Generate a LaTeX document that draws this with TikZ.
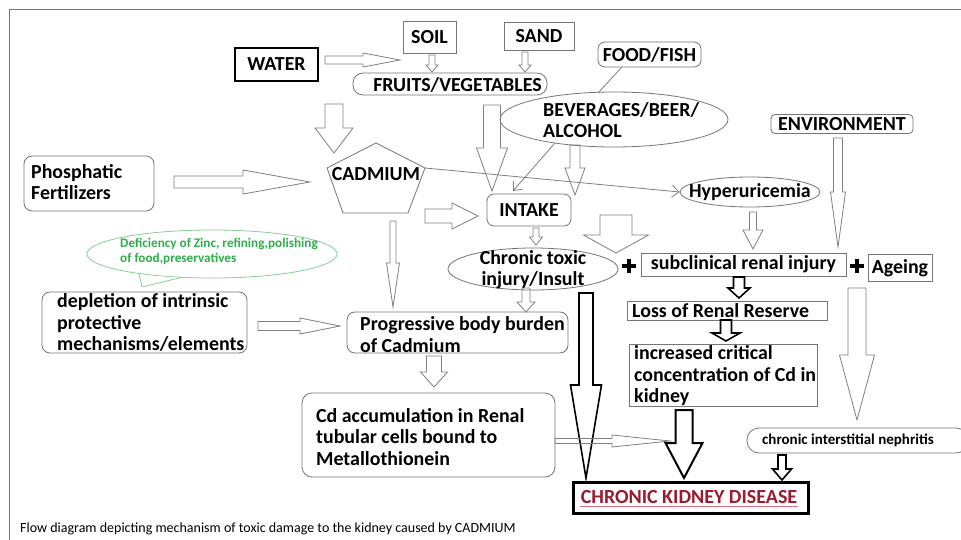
\documentclass[tikz,border=0pt]{standalone}
\usepackage{fontspec}
\setmainfont{Carlito}
\usetikzlibrary{arrows.meta,calc,shapes.geometric}
\definecolor{bgray}{HTML}{767676}
\definecolor{agray}{HTML}{808080}
\definecolor{ckdred}{HTML}{9A1C2E}
\definecolor{ulred}{HTML}{E0707E}
\definecolor{gline}{HTML}{86CF95}
\definecolor{gtext}{HTML}{2EAF4A}
\newcommand\fb{\fontsize{19.9}{21.5}\selectfont\bfseries}
% down block arrow: style, x, ytop, ytip, shaft w, head w, head len
\newcommand\downarr[7]{%
 \draw[#1] ({#2-#5/2},#3) -- ({#2+#5/2},#3) -- ({#2+#5/2},{#4-#7}) -- ({#2+#6/2},{#4-#7}) -- (#2,#4) -- ({#2-#6/2},{#4-#7}) -- ({#2-#5/2},{#4-#7}) -- cycle;}
% right block arrow: style, y, xleft, xtip, shaft w, head w, head len
\newcommand\rightarr[7]{%
 \draw[#1] (#3,{#2-#5/2}) -- ({#4-#7},{#2-#5/2}) -- ({#4-#7},{#2-#6/2}) -- (#4,#2) -- ({#4-#7},{#2+#6/2}) -- ({#4-#7},{#2+#5/2}) -- (#3,{#2+#5/2}) -- cycle;}
\tikzset{
 box/.style={draw=bgray, line width=0.8pt, inner sep=0pt, font=\fb, text=black},
 rbox/.style={box, rounded corners=8pt},
 ell/.style={draw=bgray, line width=0.8pt, ellipse, inner sep=0pt},
 lbl/.style={font=\fb, inner sep=0pt, align=left},
 lblw/.style={lbl, anchor=west},
 harr/.style={draw=agray, line width=0.8pt, line join=miter},
 karr/.style={draw=black, line width=1.6pt, line join=miter},
 thin/.style={draw=agray, line width=0.8pt, -{Straight Barb[length=7pt,width=12pt]}},
}
\begin{document}
\begin{tikzpicture}[x=1pt,y=-1pt]
\useasboundingbox (0,0) rectangle (961,540);
\fill[white] (0,0) rectangle (961,540);
% frame
\draw[bgray, line width=1pt] (9,540) -- (9,10) -- (961,10);

% top sources
\node[box, draw=black, line width=1.3pt, minimum width=83, minimum height=33] (water) at (276.5,64.5) {WATER};
\node[box, minimum width=53, minimum height=32] (soil) at (429.5,37) {SOIL};
\node[box, minimum width=70, minimum height=28] (sand) at (539,36) {SAND};
\node[box, rounded corners=10pt, minimum width=194, minimum height=22] (fruits) at (450,84) {};
\node[lbl] at (457.5,85) {FRUITS/VEGETABLES};
\node[box, rounded corners=7pt, minimum width=103, minimum height=25] (food) at (649.5,54.5) {FOOD/FISH};
\node[ell, minimum width=228, minimum height=55] (bev) at (614,119.5) {};
\node[lblw] at (543,120) {BEVERAGES/BEER/\\ALCOHOL};
\node[box, rounded corners=4pt, minimum width=142, minimum height=19] (env) at (842,124) {ENVIRONMENT};

% cadmium pentagon
\draw[bgray, line width=0.8pt] (376,143) -- (425,168) coordinate (cadR) -- (408,213) -- (343,213) -- (327,168) -- cycle;
\node[lbl] (cad) at (376,174) {CADMIUM};

\node[rbox, minimum width=130, minimum height=55] (phos) at (89,183.5) {};
\node[lblw] at (31,182) {Phosphatic\\Fertilizers};
\node[box, rounded corners=7pt, minimum width=84, minimum height=32] (intake) at (529,210) {INTAKE};
\node[ell, minimum width=140, minimum height=30] (hyper) at (750,192) {};
\node[lbl] at (750,192) {Hyperuricemia};

% green callout
\draw[gline, line width=0.8pt, fill=white] (212,254) ellipse [x radius=125, y radius=24];
\fill[white] (140,275) -- (142.3,285.5) -- (180,277.8) -- cycle;
\draw[gline, line width=0.8pt, line join=round] (139,273.8) -- (142,287) -- (182,277.3);
\node[lbl, font=\fontsize{13.2}{15}\selectfont\bfseries, text=gtext] at (219,251) {Deficiency of Zinc, refining,polishing\\of food,preservatives};

% middle row
\node[ell, minimum width=170, minimum height=42] (chronic) at (533,269) {};
\node[lbl, align=center] at (533,269.5) {Chronic toxic\\injury/Insult};
\node[box, minimum width=205, minimum height=23] (subc) at (743.5,264.5) {subclinical renal injury};
\node[box, minimum width=64, minimum height=27] (ageing) at (900,268) {Ageing};
\fill (622,263.5) rectangle (636,267.5);
\fill (627,258.5) rectangle (631,272.5);
\fill (850,263.5) rectangle (864,267.5);
\fill (855,258.5) rectangle (859,272.5);

\node[rbox, minimum width=205, minimum height=61] (depl) at (144.5,322.5) {};
\node[lblw] at (57,322.5) {depletion of intrinsic\\protective\\mechanisms/elements};
\node[rbox, minimum width=221, minimum height=41] (prog) at (457.5,332.5) {};
\node[lblw] at (360,334.5) {Progressive body burden\\of Cadmium};
\node[rbox, rounded corners=10pt, minimum width=253, minimum height=84] (cdacc) at (428.5,435) {};
\node[lblw] at (316,437) {Cd accumulation in Renal\\tubular cells bound to\\Metallothionein};
\node[box, minimum width=200, minimum height=19] (loss) at (727,310.5) {};
\node[lblw] at (632,310.5) {Loss of Renal Reserve};
\node[box, minimum width=188, minimum height=62] (incr) at (723,375) {};
\node[lblw] at (634,376) {increased critical\\concentration of Cd in\\kidney};
\node[box, rounded corners=12pt, minimum width=221, minimum height=25] (neph) at (857.5,440.5) {};
\node[lblw, font=\fontsize{15}{16}\selectfont\bfseries] at (762,440) {chronic interstitial nephritis};
\node[box, draw=black, line width=3pt, minimum width=235, minimum height=31] (ckd) at (690.5,497.5) {};
\node[lbl, text=ckdred, font=\fontsize{20}{22}\selectfont\bfseries] (ckdt) at (689,497) {CHRONIC KIDNEY DISEASE};
\draw[ulred, line width=0.7pt] (580,506) -- (798,506);

% caption
\node[anchor=base west, inner sep=0pt, font=\fontsize{14}{16}\selectfont] at (20,532) {Flow diagram depicting mechanism of toxic damage to the kidney caused by CADMIUM};

% block arrows
\rightarr{harr}{60}{325}{400}{8}{14}{37}
\downarr{harr}{432}{55}{72}{6}{12}{7}
\downarr{harr}{525}{52}{72}{6}{12}{7}
\downarr{harr}{334}{104}{153}{18}{38}{25}
\rightarr{harr}{182}{174}{310}{12}{24}{67}
\downarr{harr}{492}{105}{191}{17}{31}{43}
\downarr{harr}{575}{145}{195}{10}{20}{27}
\rightarr{harr}{216}{425}{478}{14}{26}{26}
\downarr{harr}{393}{221}{307}{6}{13}{44}
\downarr{harr}{536}{228}{245}{6}{13}{8}
\downarr{harr}{616}{215}{253}{32}{65}{18}
\downarr{harr}{753}{212}{249}{7}{20}{19}
\downarr{harr}{838}{138}{247}{9}{15}{55}
\downarr{harr}{526}{288}{312}{8}{18}{10}
\downarr{karr}{586}{293}{478}{14}{31}{93}
\downarr{karr}{739}{277}{298}{11}{22}{10}
\downarr{karr}{726}{320}{341}{11}{28}{8}
\downarr{karr, line width=2pt}{684}{410}{478}{17}{37}{35}
\downarr{harr}{857}{288}{420}{18}{35}{65}
\downarr{karr}{782}{455}{480}{8}{19}{11}
\rightarr{harr}{326}{258}{340}{9}{16}{40}
\rightarr{harr}{441}{555}{670}{5}{12}{58}
\downarr{harr}{434}{356}{387}{15}{27}{15}

% thin connectors
\coordinate (bevs) at (555,143);
\coordinate (intk) at (513,191);
\coordinate (foodb) at (622,67);
\coordinate (bevt) at (598,93);
\draw[thin] (cadR) -- (hyper.west);
\draw[thin] (bevs) -- (intk);
\draw[agray, line width=0.8pt] (foodb) -- (bevt);
\end{tikzpicture}
\end{document}
